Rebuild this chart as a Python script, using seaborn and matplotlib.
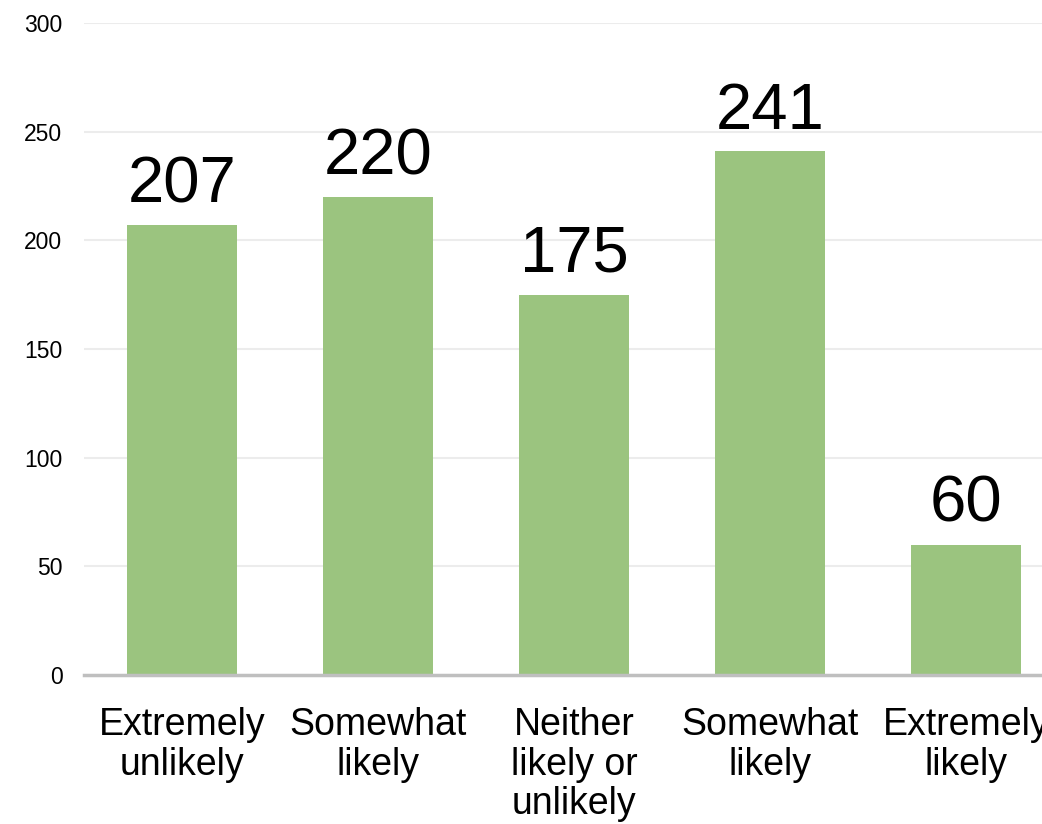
import matplotlib
matplotlib.use("Agg")
import matplotlib.pyplot as plt
import seaborn as sns
import pandas as pd

categories = ["c1", "c2", "c3", "c4", "c5"]
tick_labels = ["Extremely\nunlikely", "Somewhat\nlikely", "Neither\nlikely or\nunlikely",
               "Somewhat\nlikely", "Extremely\nlikely"]
values = [207, 220, 175, 241, 60]

sns.set_theme(style="white")
plt.rcParams['font.family'] = ['Liberation Sans', 'DejaVu Sans']

df = pd.DataFrame({"cat": categories, "val": values})

fig = plt.figure(figsize=(10.42, 8.24), dpi=100)
ax = fig.add_axes([84 / 1042, 149 / 824, 980 / 1042, 652 / 824])

sns.barplot(data=df, x="cat", y="val", order=categories, color="#9BC47F",
            saturation=1, width=0.562, ax=ax, zorder=3, linewidth=0)

ax.set_ylim(0, 300)
ax.set_yticks([0, 50, 100, 150, 200, 250, 300])
ax.yaxis.grid(True, color="#ececec", linewidth=1.5, zorder=0)
ax.xaxis.grid(False)
ax.set_axisbelow(True)

ax.set_xticks(range(len(categories)))
ax.set_xticklabels(tick_labels, fontsize=27, color="black", linespacing=1.13)
ax.tick_params(axis="x", length=0, pad=23)
ax.tick_params(axis="y", length=0, pad=15.5, labelsize=16.5, labelcolor="black")

for s in ["top", "right", "left"]:
    ax.spines[s].set_visible(False)
ax.spines["bottom"].set_color("#bfbfbf")
ax.spines["bottom"].set_linewidth(2.5)
ax.spines["bottom"].set_zorder(4)

ax.set_xlabel("")
ax.set_ylabel("")

ax.bar_label(ax.containers[0], labels=[str(v) for v in values], fontsize=47,
             padding=7, color="black")

fig.savefig("out.png", dpi=100)
